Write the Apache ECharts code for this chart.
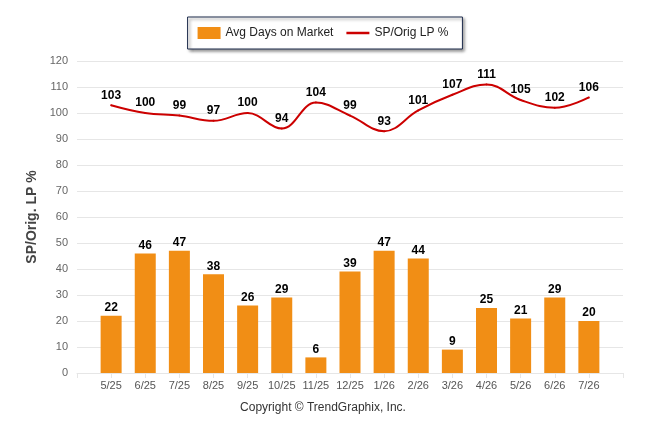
<!DOCTYPE html>
<html>
<head>
<meta charset="utf-8">
<script src="https://cdn.jsdelivr.net/npm/echarts@6/dist/echarts.min.js"></script>
<style>
  html, body { margin: 0; padding: 0; background: #fff; }
  #chart { width: 646px; height: 434px; }
</style>
</head>
<body>
<div id="chart"></div>
<script>
// months along the x axis
const months = ['5/25', '6/25', '7/25', '8/25', '9/25', '10/25', '11/25', '12/25',
  '1/26', '2/26', '3/26', '4/26', '5/26', '6/26', '7/26'];
const avgDays = [22, 46, 47, 38, 26, 29, 6, 39, 47, 44, 9, 25, 21, 29, 20];
const spOrig = [103, 100, 99, 97, 100, 94, 104, 99, 93, 101, 107, 111, 105, 102, 106];
const yTicks = { min: 0, max: 120, step: 10 };

const font = 'Arial, "Liberation Sans", sans-serif';

let chart = echarts.init(document.getElementById('chart'));

const valueLabel = {
  show: true,
  fontFamily: font,
  fontSize: 12,
  fontWeight: 'bold',
  color: '#000'
};

chart.setOption({
  animation: false,
  textStyle: {fontFamily: font},
  legend: {
    top: 17,
    left: 'center',
    padding: [10, 14, 10, 10],
    itemGap: 13,
    itemWidth: 23,
    itemHeight: 12,
    borderColor: '#1f2d4d',
    borderWidth: 1,
    backgroundColor: '#fff',
    shadowColor: 'rgba(0,0,0,0.45)',
    shadowBlur: 3,
    shadowOffsetX: 2,
    shadowOffsetY: 2,
    textStyle: {fontSize: 12, color: '#222', fontFamily: font},
    data: [
      {name: 'Avg Days on Market', icon: 'rect'},
      {name: 'SP/Orig LP %', icon: 'path://M0,0 L24,0 L24,2.6 L0,2.6 Z'}
    ]
  },
  grid: {left: 77, right: 23, top: 61, bottom: 61},
  xAxis: {
    type: 'value',
    min: -1,
    max: months.length,
    interval: 1,
    splitLine: {show: false},
    axisLine: {show: true, lineStyle: {color: '#e6e6e6'}},
    axisTick: {show: true, length: 5, lineStyle: {color: '#e6e6e6'}},
    axisLabel: {
      color: '#555',
      fontSize: 11,
      margin: 7,
      formatter: v => months[v] || ''
    }
  },
  yAxis: {
    type: 'value',
    min: yTicks.min,
    max: yTicks.max,
    interval: yTicks.step,
    name: 'SP/Orig. LP %',
    nameLocation: 'middle',
    nameGap: 36,
    nameTextStyle: {fontSize: 14, fontWeight: 'bold', color: '#444', fontFamily: font},
    axisLine: {show: false},
    axisTick: {show: true, length: 5, lineStyle: {color: '#e6e6e6'}},
    axisLabel: {color: '#666', fontSize: 11, margin: 9},
    splitLine: {lineStyle: {color: '#e6e6e6'}}
  },
  series: [
    {
      name: 'Avg Days on Market',
      type: 'bar',
      barWidth: 21,
      itemStyle: {color: '#f18e15'},
      label: Object.assign({position: 'top', distance: 2}, valueLabel),
      data: avgDays.map((v, i) => [i, v])
    },
    {
      name: 'SP/Orig LP %',
      type: 'line',
      smooth: 0.4,
      symbol: 'circle',
      symbolSize: 2,
      lineStyle: {color: '#cc0000', width: 2},
      itemStyle: {color: '#cc0000'},
      label: Object.assign({position: 'top', distance: 3}, valueLabel),
      data: spOrig.map((v, i) => [i, v])
    }
  ],
  graphic: [{
    type: 'text',
    left: 'center',
    top: 402,
    style: {
      text: 'Copyright \u00a9 TrendGraphix, Inc.',
      fill: '#333',
      fontSize: 12,
      fontFamily: font
    }
  }]
});
</script>
</body>
</html>
